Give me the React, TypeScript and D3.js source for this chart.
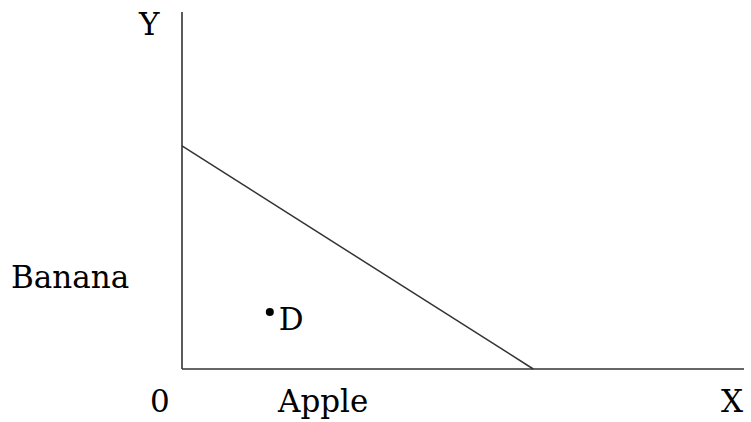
import React, { useEffect, useRef } from "react";
import * as d3 from "d3";

// budget line: quantity of Apple (x) vs Banana (y)
const budgetApple = [0, 10];
const budgetBanana = [10, 0];
const pointLabels = ["D"];
const pointApple = [2.5];
const pointBanana = [2.55];
const axisNames = { x: "X", y: "Y", origin: "0" };
const goodNames = { x: "Apple", y: "Banana" };

export default function App() {
  const ref = useRef<SVGSVGElement>(null);

  useEffect(() => {
    const width = 751,
      height = 422;
    const svg = d3.select(ref.current);
    svg.selectAll("*").remove();

    const x = d3.scaleLinear().domain([0, 16]).range([182, 744]);
    const y = d3.scaleLinear().domain([0, 16]).range([369, 12]);

    const ink = "#333";
    const font = "DejaVu Serif, serif";
    const fs = 31;

    // axes as plain lines
    svg.append("line")
      .attr("x1", x(0)).attr("x2", x(0))
      .attr("y1", y(0)).attr("y2", y(16))
      .attr("stroke", ink).attr("stroke-width", 1.6);
    svg.append("line")
      .attr("x1", x(0)).attr("x2", x(16))
      .attr("y1", y(0)).attr("y2", y(0))
      .attr("stroke", ink).attr("stroke-width", 1.6);

    // budget line
    const line = d3.line<number>()
      .x((d, i) => x(d))
      .y((d, i) => y(budgetBanana[i]));
    svg.append("path")
      .datum(budgetApple)
      .attr("d", line)
      .attr("fill", "none")
      .attr("stroke", ink)
      .attr("stroke-width", 1.5);

    // point D
    const pts = pointLabels.map((l, i) => ({ l, a: pointApple[i], b: pointBanana[i] }));
    svg.selectAll("circle.pt")
      .data(pts)
      .join("circle")
      .attr("cx", d => x(d.a))
      .attr("cy", d => y(d.b))
      .attr("r", 4)
      .attr("fill", "#000");
    svg.selectAll("text.pt")
      .data(pts)
      .join("text")
      .attr("x", d => x(d.a) + 9)
      .attr("y", d => y(d.b) + 18)
      .text(d => d.l)
      .attr("font-family", font)
      .attr("font-size", fs);

    const label = (t: string, px: number, py: number) =>
      svg.append("text")
        .attr("x", px).attr("y", py)
        .text(t)
        .attr("font-family", font)
        .attr("font-size", fs)
        .attr("fill", "#000");

    label(axisNames.y, x(0) - 43, 35);
    label(axisNames.x, 721, 412);
    label(axisNames.origin, x(0) - 32, 412);
    label(goodNames.x, 278, 412);
    label(goodNames.y, 11, 288);

    svg.attr("width", width).attr("height", height);
  }, []);

  return (
    <svg
      ref={ref}
      style={{ position: "absolute", left: 0, top: 0, background: "#fff" }}
    />
  );
}
